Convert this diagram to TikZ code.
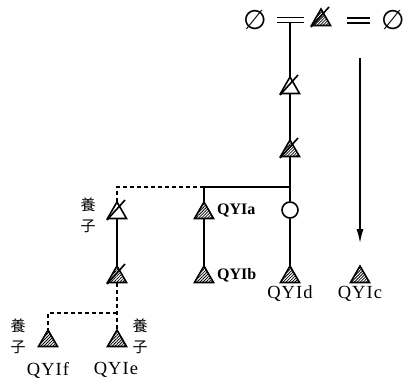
\documentclass[tikz,border=0pt]{standalone}
\usepackage{fontspec}
\setmainfont{Liberation Serif}
\newfontfamily\cjk{Noto Sans CJK JP}
\newfontfamily\djv{DejaVu Sans}
\usetikzlibrary{shapes.geometric,patterns.meta,arrows.meta,calc}
\newcommand\xslash[1]{\draw[ln] ([shift={(-10,7)}]#1.center) -- ([shift={(8,-13)}]#1.center);}
\begin{document}
\begin{tikzpicture}[x=1pt,y=-1pt,
  ln/.style={line width=1.6pt},
  dsh/.style={line width=1.6pt,dash pattern=on 4pt off 3pt},
  tri/.style={regular polygon,regular polygon sides=3,minimum size=22pt,inner sep=0pt,outer sep=0pt,draw,line width=1.6pt},
  htri/.style={tri,pattern={Lines[angle=45,distance=2.1pt,line width=0.8pt]}},
  otri/.style={tri,fill=white},
  ring/.style={circle,draw,line width=1.6pt,minimum size=16pt,inner sep=0pt,fill=white},
  lbl/.style={font=\fontsize{18.5}{18}\selectfont\addfontfeatures{LetterSpace=6},inner sep=0pt},
  blbl/.style={font=\fontsize{16}{16}\selectfont\bfseries,anchor=west,inner sep=0pt},
  yz/.style={font=\cjk\fontsize{15}{21}\selectfont,align=center,inner sep=0pt},
  sym/.style={font=\djv\fontsize{27}{27}\selectfont,inner sep=0pt},
]
\useasboundingbox (0,0) rectangle (405,384);
% top row
\node[sym] (e1) at (255,20) {∅};
\node[htri] (t0) at (321,20) {};
\node[sym] (e2) at (393,20) {∅};
\coordinate (q1) at (277,17.5); \coordinate (q2) at (304,17.5);
\coordinate (q3) at (277,22.5); \coordinate (q4) at (304,22.5);
\coordinate (top) at (290,22.5);
\draw[ln] (q1) -- (q2); \draw[ln] (q3) -- (q4);
\coordinate (r1) at (347,18); \coordinate (r2) at (370,18);
\coordinate (r3) at (347,23); \coordinate (r4) at (370,23);
\draw[ln] (r1) -- (r2); \draw[ln] (r3) -- (r4);
% main stem
\node[otri] (s1) at (290,88) {};
\node[htri] (s2) at (290,151) {};
\coordinate (j1) at (290,187);
\node[ring] (c) at (290,210) {};
\node[htri] (d) at (290,277) {};
\node[lbl] (dl) at (290,294) {QYId};
\draw[ln] (top) -- (s1);
\draw[ln] (s1) -- (s2);
\draw[ln] (s2) -- (j1) -- (c);
\draw[ln] (c) -- (d);
% arrow
\coordinate (a1) at (360,58); \coordinate (a2) at (360,243);
\draw[line width=1.4pt,-{Latex[length=14pt,width=7pt]}] (a1) -- (a2);
\node[htri] (cc) at (360,277) {};
\node[lbl] (cl) at (360,294) {QYIc};
% middle branch
\coordinate (j2) at (204,187);
\coordinate (j3) at (117,187);
\node[htri] (a) at (204,213) {};
\node[htri] (b) at (204,277) {};
\node[blbl] (al) at (217,210) {QYIa};
\node[blbl] (bl) at (217,275) {QYIb};
\draw[ln] (j1) -- (j2);
\draw[ln] (j2) -- (a);
\draw[ln] (a) -- (b);
% left branch
\node[otri] (l1) at (117,213) {};
\node[htri] (l2) at (117,277) {};
\node[yz] (y1) at (88,215) {養\\子};
\draw[dsh] (j2) -- (j3) -- (l1);
\draw[ln] (l1) -- (l2);
\coordinate (j4) at (117,313); \coordinate (j5) at (48,313);
\node[htri] (f) at (48,341) {};
\node[htri] (e) at (117,341) {};
\draw[dsh] (l2) -- (j4) -- (e);
\draw[dsh] (j4) -- (j5) -- (f);
\node[yz] (y2) at (18,336) {養\\子};
\node[yz] (y3) at (140,336) {養\\子};
\node[lbl] (fl) at (48,370) {QYIf};
\node[lbl] (el) at (116,370) {QYIe};
% slashes
\xslash{t0}
\xslash{s1}
\xslash{s2}
\xslash{l1}
\xslash{l2}
\end{tikzpicture}
\end{document}
